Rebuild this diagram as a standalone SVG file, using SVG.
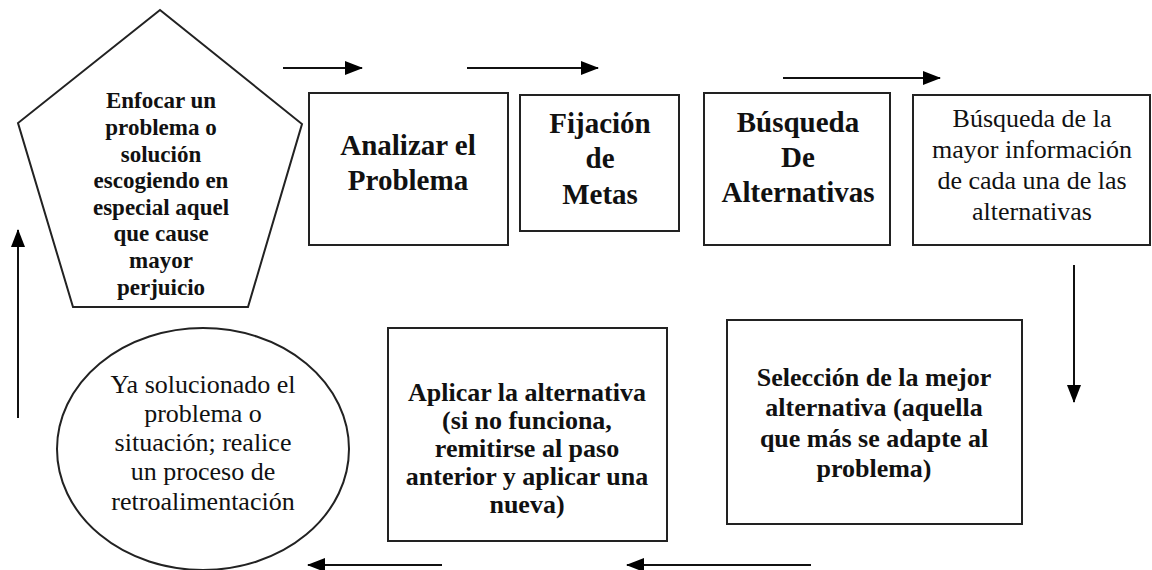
<svg xmlns="http://www.w3.org/2000/svg" width="1152" height="570" viewBox="0 0 1152 570">
<defs>
<marker id="ah" markerUnits="userSpaceOnUse" markerWidth="18" markerHeight="14" refX="17" refY="7" orient="auto">
<path d="M0,0 L18,7 L0,14 Z" fill="#000"/>
</marker>
<style>
.shape{fill:#fff;stroke:#222;stroke-width:2}
.conn{stroke:#111;stroke-width:2;fill:none;marker-end:url(#ah)}
.t{fill:#111;text-anchor:middle}
.b{font-weight:bold}
.big{font-size:29px}
.mid{font-size:26px}
.pent{font-size:23px}
.reg{font-size:26px}
</style>
</defs>
<rect width="1152" height="570" fill="#fff"/>
<g id="connectors">
<line class="conn" x1="283" y1="68" x2="362" y2="68"/>
<line class="conn" x1="467" y1="68" x2="598" y2="68"/>
<line class="conn" x1="783" y1="78" x2="940" y2="78"/>
<line class="conn" x1="1074" y1="265" x2="1074" y2="402"/>
<line class="conn" x1="811" y1="565" x2="627" y2="565"/>
<line class="conn" x1="442" y1="565" x2="308" y2="565"/>
<line class="conn" x1="18" y1="418" x2="18" y2="230"/>
</g>
<g font-family="Liberation Serif, DejaVu Serif, serif">
<g id="enfocar">
<polygon class="shape" points="160,10 302,124 248,307 73,307 18,123" stroke-width="1.6"/>
<text class="t b pent"><tspan x="161" y="108">Enfocar un</tspan><tspan x="161" y="135">problema o</tspan><tspan x="161" y="162">solución</tspan><tspan x="161" y="188">escogiendo en</tspan><tspan x="161" y="215">especial aquel</tspan><tspan x="161" y="241">que cause</tspan><tspan x="161" y="268">mayor</tspan><tspan x="161" y="295">perjuicio</tspan></text>
</g>
<g id="analizar">
<rect class="shape" x="309" y="93" width="199" height="152"/>
<text class="t b big"><tspan x="408" y="155">Analizar el</tspan><tspan x="408" y="190">Problema</tspan></text>
</g>
<g id="fijacion">
<rect class="shape" x="520" y="95" width="159" height="136"/>
<text class="t b big"><tspan x="600" y="133">Fijación</tspan><tspan x="600" y="168">de</tspan><tspan x="600" y="204">Metas</tspan></text>
</g>
<g id="busqueda">
<rect class="shape" x="704" y="93" width="186" height="152"/>
<text class="t b big"><tspan x="798" y="132">Búsqueda</tspan><tspan x="798" y="167">De</tspan><tspan x="798" y="202">Alternativas</tspan></text>
</g>
<g id="informacion">
<rect class="shape" x="913" y="95" width="237" height="150"/>
<text class="t reg"><tspan x="1032" y="127">Búsqueda de la</tspan><tspan x="1032" y="158">mayor información</tspan><tspan x="1032" y="189">de cada una de las</tspan><tspan x="1032" y="220">alternativas</tspan></text>
</g>
<g id="seleccion">
<rect class="shape" x="727" y="320" width="295" height="204"/>
<text class="t b mid"><tspan x="874" y="386">Selección de la mejor</tspan><tspan x="874" y="416">alternativa (aquella</tspan><tspan x="874" y="447">que más se adapte al</tspan><tspan x="874" y="477">problema)</tspan></text>
</g>
<g id="aplicar">
<rect class="shape" x="388" y="328" width="279" height="213"/>
<text class="t b mid"><tspan x="527" y="401">Aplicar la alternativa</tspan><tspan x="527" y="429">(si no funciona,</tspan><tspan x="527" y="457">remitirse al paso</tspan><tspan x="527" y="485">anterior y aplicar una</tspan><tspan x="527" y="513">nueva)</tspan></text>
</g>
<g id="retro">
<ellipse class="shape" cx="203" cy="449" rx="146" ry="121" stroke-width="1.6"/>
<text class="t reg"><tspan x="203" y="393">Ya solucionado el</tspan><tspan x="203" y="422">problema o</tspan><tspan x="203" y="451">situación; realice</tspan><tspan x="203" y="480">un proceso de</tspan><tspan x="203" y="510">retroalimentación</tspan></text>
</g>
</g>
</svg>
